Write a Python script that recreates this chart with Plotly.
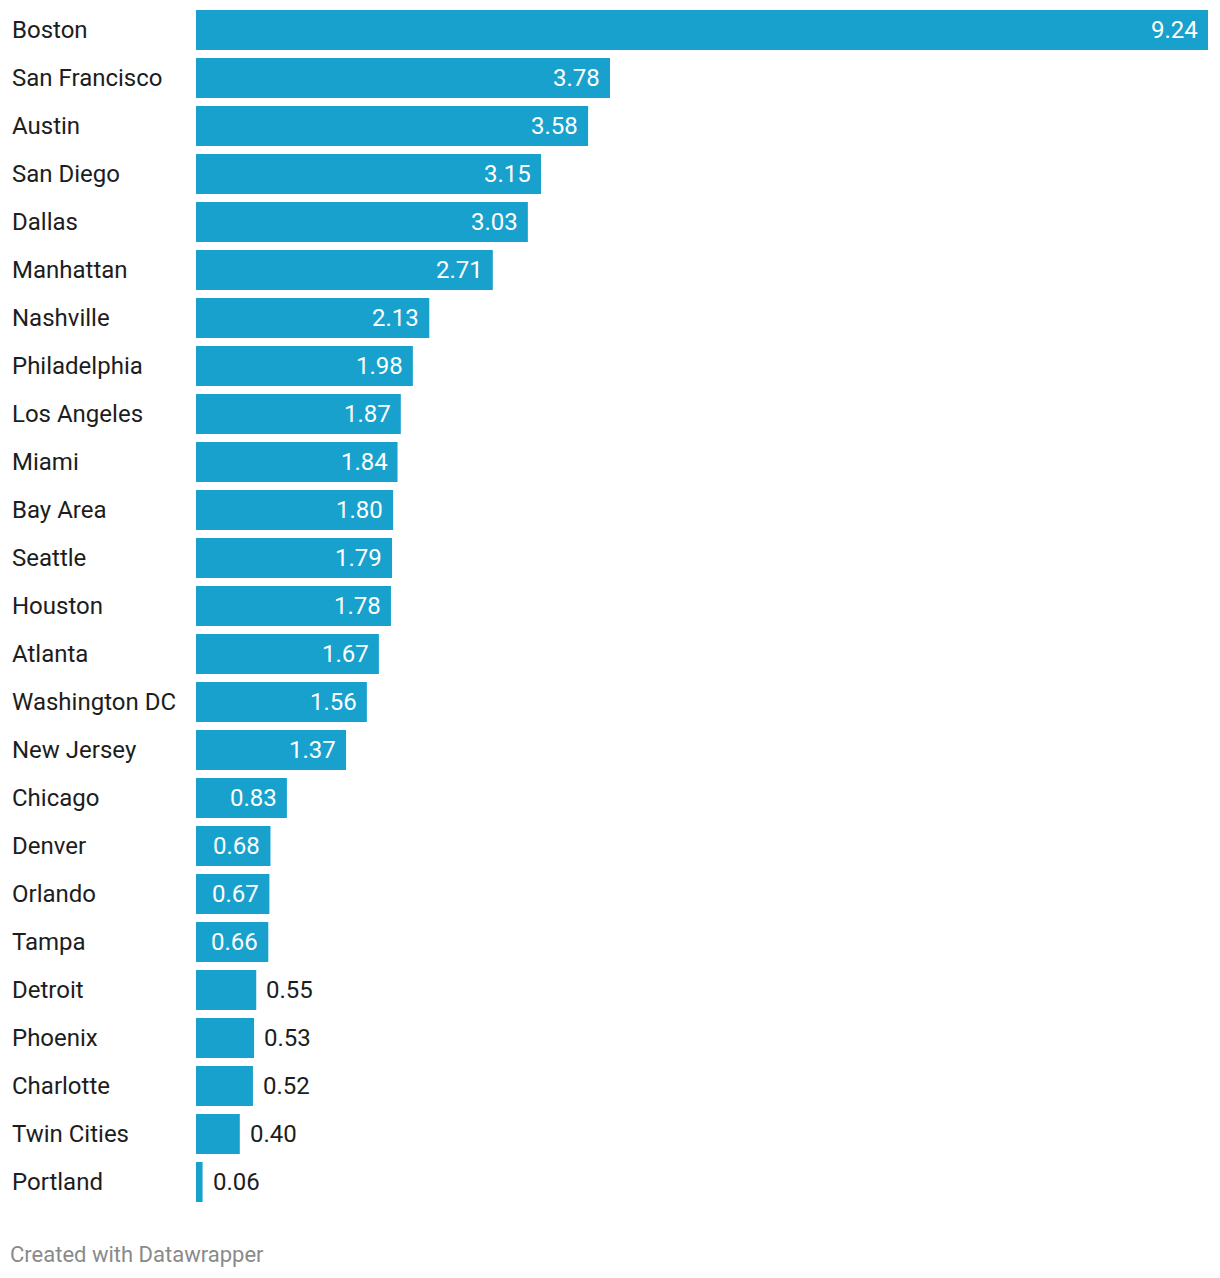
import plotly.graph_objects as go

cities = ["Boston", "San Francisco", "Austin", "San Diego", "Dallas", "Manhattan",
          "Nashville", "Philadelphia", "Los Angeles", "Miami", "Bay Area", "Seattle",
          "Houston", "Atlanta", "Washington DC", "New Jersey", "Chicago", "Denver",
          "Orlando", "Tampa", "Detroit", "Phoenix", "Charlotte", "Twin Cities", "Portland"]
values = [9.24, 3.78, 3.58, 3.15, 3.03, 2.71, 2.13, 1.98, 1.87, 1.84, 1.80, 1.79,
          1.78, 1.67, 1.56, 1.37, 0.83, 0.68, 0.67, 0.66, 0.55, 0.53, 0.52, 0.40, 0.06]

blue = "#18a1cd"
font = "Roboto"

fig = go.Figure(go.Bar(
    x=values, y=cities, orientation="h",
    marker=dict(color=blue, line=dict(width=0)),
    hoverinfo="skip",
))

annotations = []
for c, v in zip(cities, values):
    # city label at the left edge
    annotations.append(dict(
        x=0, xref="paper", xanchor="left", xshift=-186,
        y=c, yref="y", yanchor="middle",
        text=c, showarrow=False,
        font=dict(family=font, size=24, color="#1d1d1d"),
    ))
    # value label, inside for wide bars, outside for short ones
    inside = v > 0.6
    annotations.append(dict(
        x=v, xref="x", xanchor="right" if inside else "left",
        xshift=-8 if inside else 8,
        y=c, yref="y", yanchor="middle",
        text=f"{v:.2f}", showarrow=False,
        font=dict(family=font, size=24, color="white" if inside else "#1d1d1d"),
    ))

annotations.append(dict(
    x=0, xref="paper", xanchor="left", xshift=-188,
    y=0, yref="paper", yanchor="middle", yshift=-48,
    text="Created with Datawrapper", showarrow=False,
    font=dict(family=font, size=22, color="#8a8a8a"),
))

n = len(cities)
fig.update_layout(
    width=1212, height=1270,
    margin=dict(l=188, r=12, t=0, b=72),
    plot_bgcolor="white", paper_bgcolor="white",
    bargap=8 / 48,
    showlegend=False,
    annotations=annotations,
    xaxis=dict(range=[0, 9.24], visible=False, fixedrange=True),
    yaxis=dict(range=[n - 0.5, -0.5 + 2 / 48], showticklabels=False, showgrid=False,
               zeroline=False, fixedrange=True),
)

fig.write_html("out.html")
